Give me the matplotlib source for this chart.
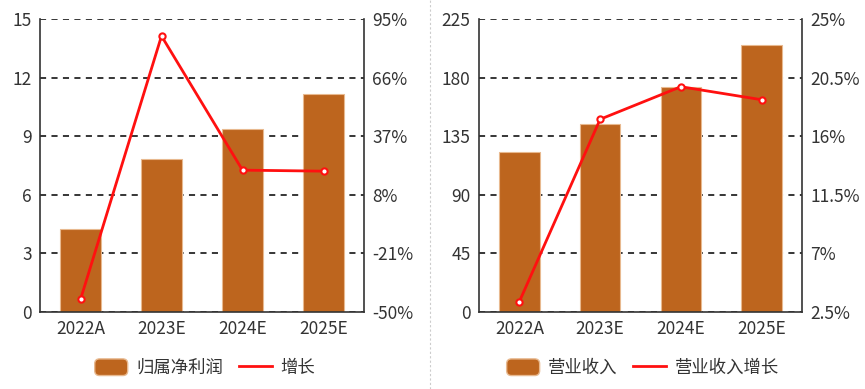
import matplotlib
matplotlib.use('Agg')
import matplotlib.pyplot as plt
from matplotlib.patches import Patch, FancyBboxPatch
from matplotlib.lines import Line2D
from matplotlib.legend_handler import HandlerPatch
import numpy as np

plt.rcParams['font.family'] = ['Noto Sans CJK SC', 'DejaVu Sans']

years = ['2022A', '2023E', '2024E', '2025E']

profit = [4.23, 7.83, 9.38, 11.18]
profit_growth = [-43.8, 86.6, 20.2, 19.7]
profit_ticks = [0, 3, 6, 9, 12, 15]
profit_pct_ticks = [-50, -21, 8, 37, 66, 95]
profit_pct_labels = ['-50%', '-21%', '8%', '37%', '66%', '95%']

revenue = [123.0, 144.4, 172.6, 204.7]
revenue_growth = [3.3, 17.3, 19.8, 18.8]
revenue_ticks = [0, 45, 90, 135, 180, 225]
revenue_pct_ticks = [2.5, 7, 11.5, 16, 20.5, 25]
revenue_pct_labels = ['2.5%', '7%', '11.5%', '16%', '20.5%', '25%']

BAR = '#BD651E'
RED = '#FF1010'
INK = '#333333'
FS = 12.5


class RoundPatch(HandlerPatch):
    def create_artists(self, legend, orig_handle, xdescent, ydescent, width, height, fontsize, trans):
        p = FancyBboxPatch((-xdescent, -ydescent), width, height,
                           boxstyle='round,pad=0,rounding_size=3.5')
        self.update_prop(p, orig_handle, legend)
        p.set_transform(trans)
        return [p]


def draw_panel(fig, rect, bars, growth, yticks, pticks, plabels, bar_name, line_name, legend_x):
    ax = fig.add_axes(rect)
    x = np.arange(len(years))
    ax.bar(x, bars, width=0.5, color=BAR, edgecolor='#E8B98F', linewidth=0.8, zorder=2)
    ax.set_xlim(-0.5, len(years) - 0.5)
    ax.set_ylim(yticks[0], yticks[-1])
    ax.set_yticks(yticks)
    ax.set_xticks(x)
    ax.set_xticklabels(years)
    ax.grid(axis='y', color='black', linestyle=(0, (4, 3.5)), linewidth=1.1, zorder=1)
    ax.set_axisbelow(True)
    ax.tick_params(length=0, labelsize=FS, colors=INK, pad=6)
    for s in ['top', 'right']:
        ax.spines[s].set_visible(False)
    for s in ['left', 'bottom']:
        ax.spines[s].set_color(INK)
        ax.spines[s].set_linewidth(1.2)

    ax2 = ax.twinx()
    ax2.plot(x, growth, color=RED, linewidth=2, marker='o', markersize=4.5,
             markerfacecolor='white', markeredgecolor=RED, markeredgewidth=1.5)
    ax2.set_ylim(pticks[0], pticks[-1])
    ax2.set_yticks(pticks)
    ax2.set_yticklabels(plabels)
    ax2.tick_params(length=0, labelsize=FS, colors=INK, pad=6)
    for s in ['top', 'left', 'bottom']:
        ax2.spines[s].set_visible(False)
    ax2.spines['right'].set_color(INK)
    ax2.spines['right'].set_linewidth(1.2)

    bar_handle = Patch(facecolor=BAR, edgecolor='#E8B98F', label=bar_name)
    handles = [bar_handle, Line2D([0], [0], color=RED, linewidth=2, label=line_name)]
    fig.legend(handles=handles, loc='center', bbox_to_anchor=(legend_x, 0.054),
               ncol=2, frameon=False, fontsize=FS, handlelength=1.9, handleheight=1.1,
               columnspacing=0.9, handletextpad=0.5, labelcolor=INK,
               handler_map={bar_handle: RoundPatch()})


fig = plt.figure(figsize=(8.65, 3.89), dpi=100)

draw_panel(fig, [40 / 865, 1 - 312 / 389, 324 / 865, 293 / 389],
           profit, profit_growth, profit_ticks, profit_pct_ticks, profit_pct_labels,
           '归属净利润', '增长', 205 / 865)
draw_panel(fig, [479 / 865, 1 - 312 / 389, 323 / 865, 293 / 389],
           revenue, revenue_growth, revenue_ticks, revenue_pct_ticks, revenue_pct_labels,
           '营业收入', '营业收入增长', 643 / 865)

fig.add_artist(Line2D([430 / 865, 430 / 865], [0, 1], transform=fig.transFigure,
                      color='#CCCCCC', linestyle=(0, (2, 2)), linewidth=0.8))

fig.savefig('out.png', dpi=100)
